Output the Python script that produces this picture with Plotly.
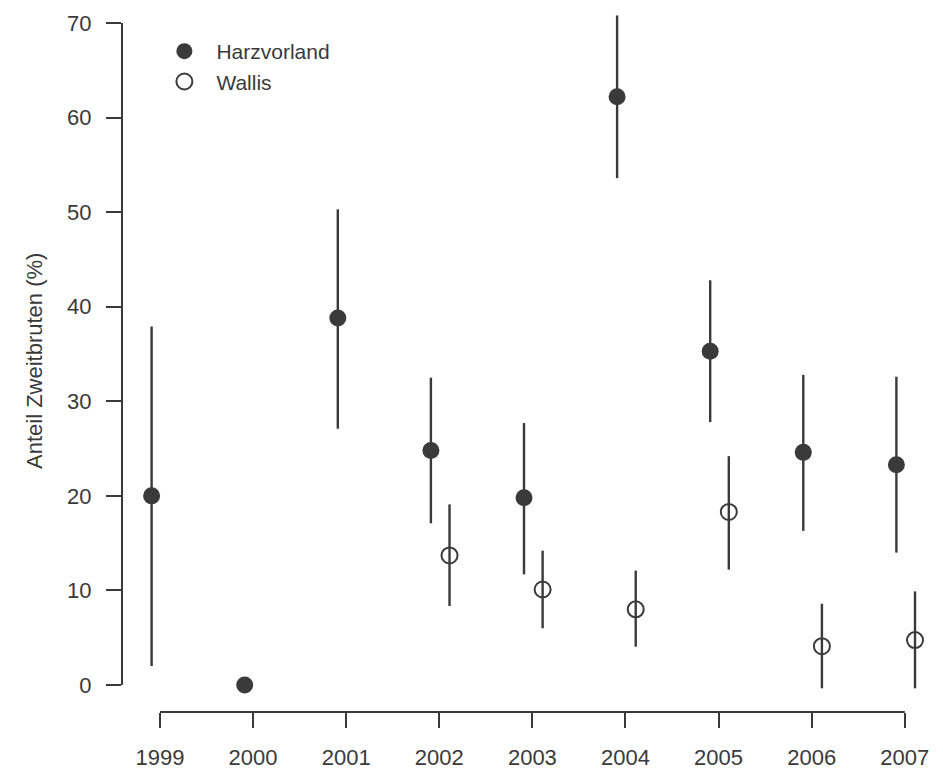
import plotly.graph_objects as go

years = [1999, 2000, 2001, 2002, 2003, 2004, 2005, 2006, 2007]
harz = [20.0, 0.0, 38.8, 24.8, 19.8, 62.2, 35.3, 24.6, 23.3]
harz_lo = [2.0, 0.0, 27.1, 17.1, 11.7, 53.6, 27.8, 16.3, 14.0]
harz_hi = [37.9, 0.0, 50.3, 32.5, 27.7, 70.8, 42.8, 32.8, 32.6]

wallis_years = [2002, 2003, 2004, 2005, 2006, 2007]
wallis = [13.7, 10.1, 8.0, 18.3, 4.1, 4.75]
wallis_lo = [8.35, 6.0, 4.05, 12.2, -0.35, -0.35]
wallis_hi = [19.1, 14.2, 12.1, 24.2, 8.6, 9.9]

y_ticks = [0, 10, 20, 30, 40, 50, 60, 70]

H_OFF, W_OFF = -0.09, 0.11
INK = "#3a3a3a"
FONT = "Liberation Sans, Arial, sans-serif"

fig = go.Figure()
fig.add_trace(go.Scatter(
    x=[y + H_OFF for y in years], y=harz, mode="markers", name="Harzvorland",
    marker=dict(size=17, color=INK, symbol="circle", line=dict(width=0)),
    error_y=dict(type="data", symmetric=False,
                 array=[h - v for h, v in zip(harz_hi, harz)],
                 arrayminus=[v - l for v, l in zip(harz, harz_lo)],
                 width=0, thickness=2.4, color=INK),
))
fig.add_trace(go.Scatter(
    x=[y + W_OFF for y in wallis_years], y=wallis, mode="markers", name="Wallis",
    marker=dict(size=16, color="rgba(0,0,0,0)", symbol="circle",
                line=dict(width=2, color=INK)),
    error_y=dict(type="data", symmetric=False,
                 array=[h - v for h, v in zip(wallis_hi, wallis)],
                 arrayminus=[v - l for v, l in zip(wallis, wallis_lo)],
                 width=0, thickness=2.4, color=INK),
))

# R-style axis lines spanning only the tick range
fig.add_shape(type="line", xref="paper", yref="y", x0=0, x1=0,
              y0=y_ticks[0], y1=y_ticks[-1], line=dict(color=INK, width=2))
fig.add_shape(type="line", xref="x", yref="paper", x0=years[0], x1=years[-1],
              y0=0, y1=0, line=dict(color=INK, width=2))

fig.add_annotation(text="Anteil Zweitbruten (%)", xref="paper", yref="paper",
                   x=0, y=0.5, xanchor="center", yanchor="middle", xshift=-88,
                   textangle=-90, showarrow=False,
                   font=dict(family=FONT, size=22, color=INK))

fig.update_layout(
    width=943, height=769,
    margin=dict(l=122, r=13, t=10, b=57, autoexpand=False),
    paper_bgcolor="white", plot_bgcolor="white",
    showlegend=True,
    legend=dict(x=0.0376, y=0.97, xanchor="left", yanchor="top",
                font=dict(family=FONT, size=21, color=INK),
                bgcolor="rgba(0,0,0,0)", itemwidth=54, tracegroupgap=0),
    font=dict(family=FONT, color=INK),
)
fig.update_xaxes(range=[1998.592, 2007.271], tickvals=years,
                 ticktext=[str(y) for y in years], automargin=False,
                 ticks="outside", ticklen=15, tickwidth=2, tickcolor=INK,
                 showline=False, showgrid=False, zeroline=False,
                 tickfont=dict(family=FONT, size=22, color=INK),
                 ticklabelstandoff=11)
fig.update_yaxes(range=[-2.855, 71.38], tickvals=y_ticks,
                 ticktext=[str(v) for v in y_ticks], automargin=False,
                 ticks="outside", ticklen=15, tickwidth=2, tickcolor=INK,
                 showline=False, showgrid=False, zeroline=False,
                 tickfont=dict(family=FONT, size=22, color=INK),
                 ticklabelstandoff=10)

fig.write_html("out.html")
